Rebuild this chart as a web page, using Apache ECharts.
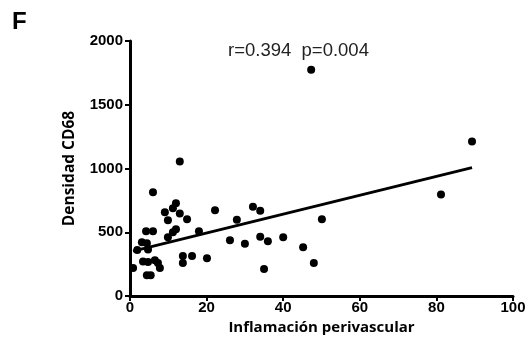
<!DOCTYPE html>
<html>
<head>
<meta charset="utf-8">
<script src="https://cdn.jsdelivr.net/npm/echarts@6/dist/echarts.min.js"></script>
<style>
  html, body { margin: 0; padding: 0; background: #fff; }
  #chart { width: 529px; height: 341px; }
</style>
</head>
<body>
<div id="chart"></div>
<script>
// Inflamación perivascular (x) vs densidad CD68 (y)
const inflamacion = [
  0.8, 1.9, 3.1, 4.4, 4.2, 6.0, 4.7, 3.4, 4.7, 6.5, 7.3, 7.8, 4.4, 5.4, 6.0, 9.1, 9.9, 9.9,
  11.2, 12.0, 11.2, 12.0, 13.0, 13.0, 14.9, 13.8, 13.8, 16.2, 18.0, 20.1, 22.2, 26.1, 27.9,
  30.0, 32.1, 34.0, 34.0, 36.0, 35.0, 40.0, 45.2, 47.3, 48.0, 50.1, 81.2, 89.3
];
const densidadCD68 = [
  219, 360, 422, 414, 508, 508, 365, 270, 266, 281, 258, 219, 162, 162, 813, 656, 594, 461,
  500, 523, 688, 727, 648, 1055, 602, 313, 258, 313, 508, 297, 672, 438, 598,
  410, 700, 668, 465, 430, 211, 461, 383, 1775, 258, 602, 797, 1211
];
// Linear fit drawn across the data range
const fitX = [0.8, 89.3];
const fitY = [352, 1007];

const xTicks = { min: 0, max: 100, interval: 20 };
const yTicks = { min: 0, max: 2000, interval: 500 };

const points = inflamacion.map((x, i) => [x, densidadCD68[i]]);
const fitLine = fitX.map((x, i) => [x, fitY[i]]);

const chart = echarts.init(document.getElementById('chart'), null, { renderer: 'canvas' });
const axisFont = '"Liberation Sans", Arial, sans-serif';
const titleFont = '"Open Sans", Lato, sans-serif';

chart.setOption({
  animation: false,
  backgroundColor: '#fff',
  grid: { left: 130, right: 16, top: 41, bottom: 45, containLabel: false },
  xAxis: {
    type: 'value',
    min: xTicks.min, max: xTicks.max, interval: xTicks.interval,
    name: 'Inflamación perivascular',
    nameLocation: 'middle',
    nameGap: 23,
    nameTextStyle: { fontFamily: titleFont, fontWeight: 'bold', fontSize: 15, color: '#000' },
    axisLine: { show: true, onZero: false, lineStyle: { color: '#000', width: 3 } },
    axisTick: { show: true, length: 5, lineStyle: { color: '#000', width: 2 } },
    axisLabel: { fontFamily: axisFont, fontWeight: 'bold', fontSize: 15, color: '#000', margin: 4,
                 formatter: v => String(v) },
    splitLine: { show: false }
  },
  yAxis: {
    type: 'value',
    min: yTicks.min, max: yTicks.max, interval: yTicks.interval,
    name: 'Densidad CD68',
    nameLocation: 'middle',
    nameGap: 52,
    nameTextStyle: { fontFamily: titleFont, fontWeight: 'bold', fontSize: 15.5, color: '#000' },
    axisLine: { show: true, onZero: false, lineStyle: { color: '#000', width: 3 } },
    axisTick: { show: true, length: 5, lineStyle: { color: '#000', width: 2 } },
    axisLabel: { fontFamily: axisFont, fontWeight: 'bold', fontSize: 15, color: '#000', margin: 7,
                 formatter: v => String(v) },
    splitLine: { show: false }
  },
  graphic: [
    { type: 'text', left: 12, top: 10,
      style: { text: 'F', font: 'bold 24px ' + axisFont, fill: '#000' } },
    { type: 'text', left: 228, top: 41,
      style: { text: 'r=0.394  p=0.004', font: '18.5px ' + axisFont, fill: '#222' } }
  ],
  series: [
    {
      type: 'line',
      data: fitLine,
      symbol: 'none',
      lineStyle: { color: '#000', width: 3 },
      z: 3
    },
    {
      type: 'scatter',
      data: points,
      symbol: 'circle',
      symbolSize: 8,
      itemStyle: { color: '#000', opacity: 1 },
      z: 4
    }
  ]
});
</script>
</body>
</html>
